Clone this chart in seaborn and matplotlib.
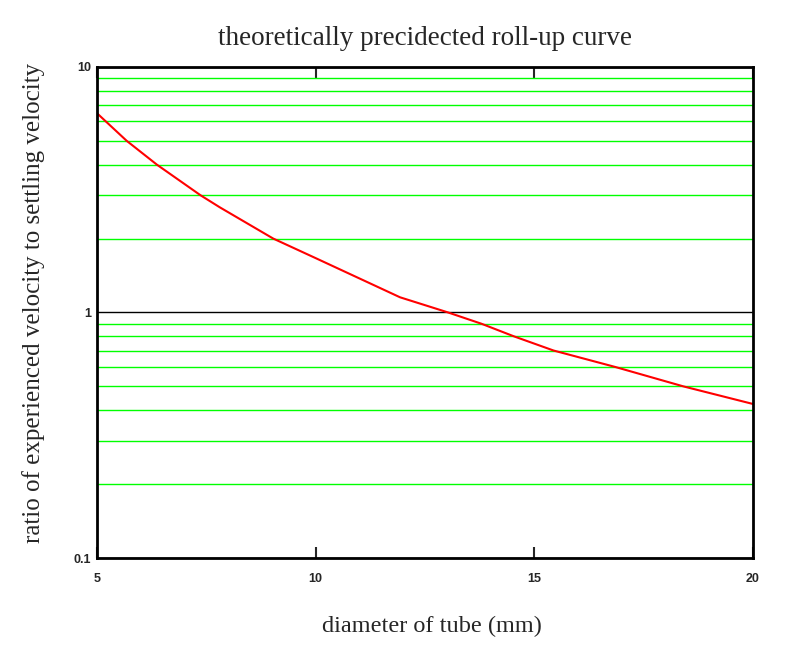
import numpy as np
import pandas as pd
import seaborn as sns
import matplotlib
matplotlib.use("Agg")
import matplotlib.pyplot as plt
from matplotlib.ticker import LogLocator, FixedLocator, NullFormatter, FixedFormatter

# values
diameter_mm = [5, 5.68, 6.37, 7.37, 7.81, 9.03, 10, 11.24, 11.93, 12.61,
               13.03, 13.79, 14.53, 15.44, 16.85, 18.41, 20]
velocity_ratio = [6.48, 5.0, 4.0, 3.0, 2.68, 2.0, 1.665, 1.315, 1.153, 1.056,
                  1.0, 0.9, 0.8, 0.7, 0.6, 0.5, 0.424]
x_ticks = [5, 10, 15, 20]
y_ticks = [0.1, 1, 10]
y_tick_labels = ["0.1", "1", "10"]

sns.set_style("white")
plt.rcParams['font.family'] = ['Liberation Serif', 'DejaVu Serif']

df = pd.DataFrame({"diameter": diameter_mm, "ratio": velocity_ratio})

fig = plt.figure(figsize=(7.86, 6.5), dpi=100)
ax = fig.add_axes([0.1234, 0.1415, 0.8346, 0.7555])

sns.lineplot(data=df, x="diameter", y="ratio", color="red", linewidth=1.5, ax=ax)

ax.set_yscale("log")
ax.set_xlim(5, 20)
ax.set_ylim(0.1, 10)

# minor log grid in green, major line at 1 in black
ax.yaxis.set_minor_locator(LogLocator(base=10, subs=np.arange(2, 10)))
ax.yaxis.set_minor_formatter(NullFormatter())
ax.yaxis.set_major_locator(FixedLocator(y_ticks))
ax.yaxis.set_major_formatter(FixedFormatter(y_tick_labels))
ax.grid(True, which="minor", axis="y", color="#00ff00", linewidth=1.0)
ax.grid(True, which="major", axis="y", color="black", linewidth=1.0)
ax.set_axisbelow(True)

ax.set_xticks(x_ticks)
ax.tick_params(axis="x", which="major", direction="in", length=8, width=1.5,
               top=True, bottom=True, pad=11)
ax.tick_params(axis="y", which="both", length=0, pad=4)
for lab in ax.get_xticklabels() + ax.get_yticklabels():
    lab.set_family(["Liberation Sans", "DejaVu Sans"])
    lab.set_fontweight("bold")
    lab.set_fontsize(9)

for s in ax.spines.values():
    s.set_color("black")
    s.set_linewidth(2)

ax.set_title("theoretically precidected roll-up curve", fontsize=19.5, pad=16)
ax.set_xlabel("diameter of tube (mm)", fontsize=17.5)
ax.set_ylabel("ratio of experienced velocity to settling velocity", fontsize=18)
ax.xaxis.set_label_coords(0.511, -0.118)
ax.yaxis.set_label_coords(-0.079, 0.519)

fig.savefig("out.png", dpi=100)
